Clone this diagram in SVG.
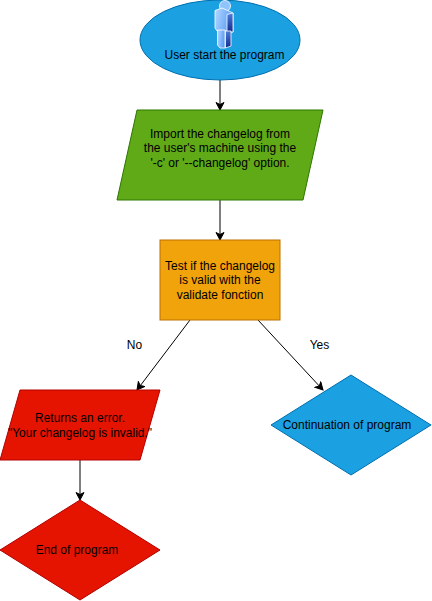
<svg xmlns="http://www.w3.org/2000/svg" width="432" height="601" viewBox="0 0 432 601">
<defs>
<style>
text{font-family:"Liberation Sans",Arial,sans-serif;font-size:12px;fill:#000;text-anchor:middle}
.c{fill:none;stroke:#000;stroke-width:1;marker-end:url(#a)}
</style>
<marker id="a" markerUnits="userSpaceOnUse" markerWidth="10" markerHeight="10" refX="8" refY="4.500" orient="auto">
<path d="M0.500 0.500L8 4.500L0.500 8.500L2.500 4.500Z" fill="#000" stroke="#000" stroke-width="1"/>
</marker>
<linearGradient id="b" x1="0" x2="1" y1="0" y2="0.300"><stop offset="0" stop-color="#b5d8ff"/><stop offset="1" stop-color="#5a9df5"/></linearGradient>
<linearGradient id="d" x1="0" x2="0" y1="0" y2="1"><stop offset="0" stop-color="#4d7fd9"/><stop offset="1" stop-color="#132a8f"/></linearGradient>
</defs>
<g id="connectors">
<path class="c" d="M220 80V110"/>
<path class="c" d="M220 200V240"/>
<path class="c" d="M190 320L137 390"/>
<path class="c" d="M258 320L323 390"/>
<path class="c" d="M80 460V500"/>
</g>
<g id="start">
<ellipse cx="220" cy="40" rx="80" ry="40" fill="#1ba1e2" stroke="#006eaf"/>
<g stroke="#fff" stroke-width="0.800" stroke-linejoin="round">
<circle cx="225" cy="6" r="5.500" fill="#8fc3fb"/>
<path d="M215 10.500L222 8L233 13V32H227V31H217L215 28Z" fill="url(#b)"/>
<path d="M227 14.500L233 13V32H227Z" fill="url(#d)"/>
<path d="M217.500 30H225V48H220L217.500 45Z" fill="url(#b)"/>
<path d="M225.500 31H231V46L225.500 48Z" fill="url(#d)"/>
</g>
<text x="224.500" y="59">User start the program</text>
</g>
<g id="import">
<path d="M137 110H323L303 200H117Z" fill="#60a917" stroke="#2d7600"/>
<text x="220" y="138">Import the changelog from</text>
<text x="220" y="152">the user's machine using the</text>
<text x="220" y="167">'-c' or '--changelog' option.</text>
</g>
<g id="test">
<rect x="160" y="240" width="120" height="80" fill="#f0a30a" stroke="#bd7000"/>
<text x="220" y="270">Test if the changelog</text>
<text x="220" y="284">is valid with the</text>
<text x="220" y="299">validate fonction</text>
</g>
<g id="no-label"><text x="134.500" y="349">No</text></g>
<g id="yes-label"><text x="319.500" y="349">Yes</text></g>
<g id="error">
<path d="M20 390H160L140 460H0Z" fill="#e51400" stroke="#b20000"/>
<text x="80" y="422">Returns an error.</text>
<text x="80" y="437">"Your changelog is invalid."</text>
</g>
<g id="continue">
<path d="M351 375L431 425L351 475L271 425Z" fill="#1ba1e2" stroke="#006eaf"/>
<text x="347" y="429">Continuation of program</text>
</g>
<g id="end">
<path d="M80 500L160 550L80 600L0 550Z" fill="#e51400" stroke="#b20000"/>
<text x="77" y="554">End of program</text>
</g>
</svg>
